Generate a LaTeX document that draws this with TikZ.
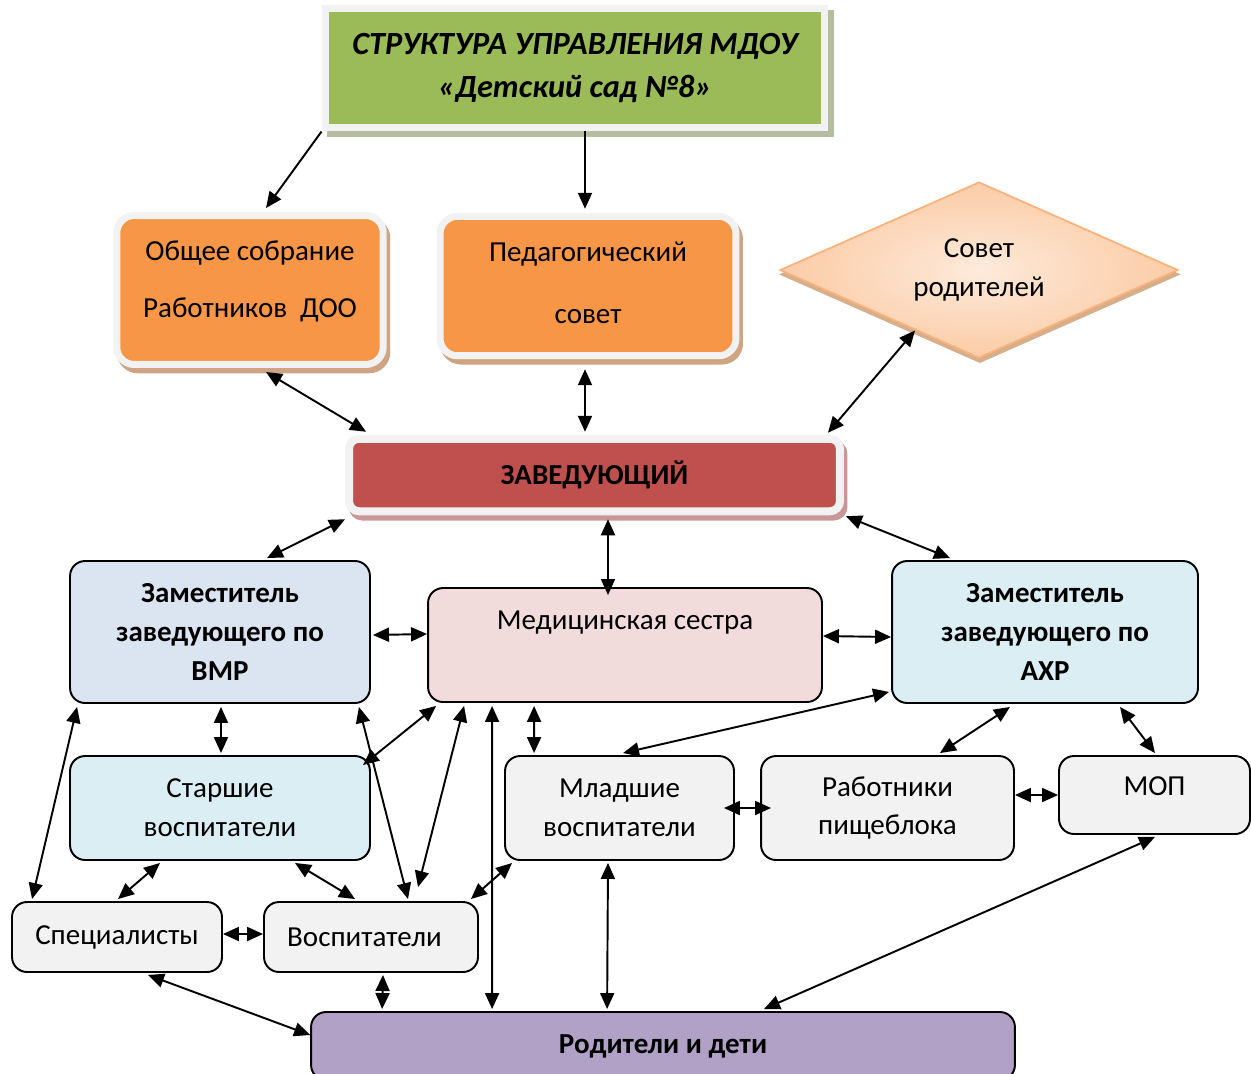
\documentclass[tikz,border=0pt]{standalone}
\usepackage{fontspec}
\setmainfont{Carlito}
\usetikzlibrary{calc}
\usetikzlibrary{arrows.meta}
\usetikzlibrary{shapes.geometric,shadows}

\definecolor{lvse}{HTML}{9BBB59}
\definecolor{chengse}{HTML}{F79646}
\definecolor{hongse}{HTML}{C0504D}
\definecolor{bianse}{HTML}{F2F2F2}
\definecolor{lanhui}{HTML}{DBE5F1}
\definecolor{qianlan}{HTML}{DAEEF3}
\definecolor{fense}{HTML}{F2DCDB}
\definecolor{zise}{HTML}{B2A1C7}
\definecolor{lvying}{HTML}{B4BDA0}
\definecolor{chengying}{HTML}{CFA483}
\definecolor{hongying}{HTML}{C99797}
\definecolor{lingxin}{HTML}{FDEADB}
\definecolor{lingbian}{HTML}{FBCCA6}
\definecolor{lingxian}{HTML}{F8B27C}
\definecolor{lingying}{HTML}{D6AE8A}

\begin{document}
\begin{tikzpicture}[x=0.02cm,y=-0.02cm,>={Triangle[length=0.32cm,width=0.28cm]},
		font=\fontsize{16.5}{22}\selectfont]
		\tikzstyle{kuang}=[rectangle,draw,rounded corners=0.3cm,line width=1.1pt,align=center]
		\tikzstyle{biankuang}=[rectangle,draw=bianse,line width=0.14cm,align=center]
		\tikzstyle{jian}=[line width=1.1pt]
		%% page
		\useasboundingbox (0,0) rectangle (1251,1073);
		\clip (0,0) rectangle (1251,1073);
		%% title
		\node[biankuang,fill=lvse,minimum width=10cm,minimum height=2.4cm,
			copy shadow={shadow xshift=3pt,shadow yshift=-3pt,draw=lvying,fill=lvying},
			font=\fontsize{18.4}{24}\selectfont\bfseries\itshape] (title) at (575,68)
			{СТРУКТУРА УПРАВЛЕНИЯ МДОУ\\«Детский сад №8»};
		%% councils
		\node[biankuang,fill=chengse,rounded corners=0.35cm,minimum width=5.33cm,minimum height=2.98cm,
			copy shadow={shadow xshift=2pt,shadow yshift=-3pt,draw=chengying,fill=chengying},
			font=\fontsize{16.5}{32}\selectfont,text depth=12.5pt] (obshee) at (250,290)
			{Общее собрание\\Работников\ \ ДОО};
		\node[biankuang,fill=chengse,rounded corners=0.35cm,minimum width=5.92cm,minimum height=2.79cm,
			copy shadow={shadow xshift=2pt,shadow yshift=-3pt,draw=chengying,fill=chengying},
			font=\fontsize{16.5}{35}\selectfont,text depth=4pt] (ped) at (588,286)
			{Педагогический\\совет};
		\node[diamond,inner sep=0pt,shape aspect=2.26,minimum width=7.96cm,minimum height=3.52cm,
			shading=radial,inner color=lingxin,outer color=lingbian,draw=lingxian,line width=1pt,align=center,
			copy shadow={shadow xshift=0.5pt,shadow yshift=-2.5pt,draw=lingying,fill=lingying}] (sovet) at (979,270)
			{Совет\\родителей};
		%% head
		\node[biankuang,fill=hongse,rounded corners=0.2cm,line width=0.16cm,minimum width=9.82cm,minimum height=1.45cm,
			copy shadow={shadow xshift=2pt,shadow yshift=-3pt,draw=hongying,fill=hongying},
			font=\fontsize{16.5}{22}\selectfont\bfseries] (zav) at (594.5,475) {ЗАВЕДУЮЩИЙ};
		%% deputies
		\node[kuang,fill=lanhui,minimum width=6cm,minimum height=2.84cm,font=\fontsize{16.5}{22}\selectfont\bfseries]
			(vmr) at (220,632) {Заместитель\\заведующего по\\ВМР};
		\node[kuang,fill=fense,minimum width=7.88cm,minimum height=2.28cm,text height=12pt,text depth=30pt]
			(med) at (625,645) {Медицинская сестра};
		\node[kuang,fill=qianlan,minimum width=6.12cm,minimum height=2.84cm,font=\fontsize{16.5}{22}\selectfont\bfseries]
			(ahr) at (1045,632) {Заместитель\\заведующего по\\АХР};
		%% staff
		\node[kuang,fill=qianlan,minimum width=6cm,minimum height=2.08cm] (starshie) at (220,808) {Старшие\\воспитатели};
		\node[kuang,fill=bianse,minimum width=4.58cm,minimum height=2.08cm] (mladshie) at (619.5,808) {Младшие\\воспитатели};
		\node[kuang,fill=bianse,minimum width=5.06cm,minimum height=2.08cm] (rabotniki) at (887.5,808) {Работники\\пищеблока};
		\node[kuang,fill=bianse,minimum width=3.82cm,minimum height=1.56cm,text height=11pt,text depth=11pt]
			(mop) at (1154.5,795) {МОП};
		\node[kuang,fill=bianse,minimum width=4.2cm,minimum height=1.4cm] (spec) at (117,937) {Специалисты};
		\node[kuang,fill=bianse,minimum width=4.28cm,minimum height=1.4cm] (vosp) at (371,937) {Воспитатели\ \ };
		\node[kuang,fill=zise,minimum width=14.08cm,minimum height=1.36cm,font=\fontsize{16.5}{22}\selectfont\bfseries]
			(roditeli) at (663,1046) {Родители и дети};
		%% arrows from title
		\draw[jian,->] (title.south west) -- ($(obshee.north)+(16,-4)$);
		\draw[jian,->] ($(title.south)+(10,0)$) -- ($(ped.north)+(-3,-4)$);
		%% arrows round the head
		\draw[jian,<->] ($(obshee.south)+(16,4)$) -- ($(zav.north west)+(21,-3)$);
		\draw[jian,<->] ($(ped.south)+(-3,10)$) -- ($(zav.north)+(-9.5,-3)$);
		\draw[jian,<->] ($(zav.north east)+(-16,-2)$) -- ($(sovet.south)!0.32!(sovet.west)$);
		\draw[jian,<->] ($(zav.south west)+(0,4)$) -- ($(vmr.north)+(47,-2)$);
		\draw[jian,<->] ($(zav.south)+(13.5,4)$) -- ($(med.north)+(-17,8)$);
		\draw[jian,<->] ($(zav.south east)+(2,1)$) -- ($(ahr.north)+(-95,-2)$);
		%% middle row
		\draw[jian,<->] ($(vmr.east)+(2,3)$) -- ($(med.west)+(0,-11)$);
		\draw[jian,<->] ($(med.east)+(0,-9)$) -- ($(ahr.west)+(0,5)$);
		%% from the deputy for VMR
		\draw[jian,<->] ($(vmr.south)+(1,3)$) -- ($(starshie.north)+(1,-2)$);
		\draw[jian,<->] ($(vmr.south west)+(8,3)$) -- ($(spec.north west)+(21,-2)$);
		\draw[jian,<->] ($(vmr.south east)+(-12,3)$) -- ($(vosp.north)+(37,-2)$);
		%% from the nurse
		\draw[jian,<->] ($(med.south west)+(9,3)$) -- ($(starshie.north east)+(-8,10)$);
		\draw[jian,<->] ($(med.south west)+(37,3)$) -- ($(vosp.north)+(47,-14)$);
		\draw[jian,<->] ($(med.south west)+(65,3)$) -- ($(roditeli.north west)+(182,-2)$);
		\draw[jian,<->] ($(med.south west)+(107,3)$) -- ($(mladshie.north west)+(30,-2)$);
		%% from the deputy for AHR
		\draw[jian,<->] ($(ahr.south west)+(-2,-12)$) -- ($(mladshie.north)+(3.5,-2)$);
		\draw[jian,<->] ($(ahr.south)+(-35,3)$) -- ($(rabotniki.north)+(52.5,-2)$);
		\draw[jian,<->] ($(ahr.south)+(75,3)$) -- ($(mop.north)+(0.5,-2)$);
		%% staff rows
		\draw[jian,<->] ($(mladshie.east)+(-11,0)$) -- ($(rabotniki.west)+(11,0)$);
		\draw[jian,<->] ($(rabotniki.east)+(0,-13)$) -- (mop.west);
		\draw[jian,<->] ($(starshie.south)+(-60,2)$) -- ($(spec.north)+(1,-2)$);
		\draw[jian,<->] ($(starshie.south)+(75,2)$) -- ($(vosp.north)+(-16,-2)$);
		\draw[jian,<->] ($(spec.east)+(0,-3)$) -- ($(vosp.west)+(0,-3)$);
		\draw[jian,<->] ($(vosp.north east)+(-8,-2)$) -- ($(mladshie.south west)+(8,2)$);
		%% to parents
		\draw[jian,<->] ($(mop.south)+(0.5,2)$) -- ($(roditeli.north)+(101,-2)$);
		\draw[jian,<->] ($(spec.south)+(31,2)$) -- ($(roditeli.west)+(0,-11)$);
		\draw[jian,<->] ($(vosp.south)+(12,2)$) -- ($(roditeli.north west)+(72,-2)$);
		\draw[jian,<->] ($(mladshie.south)+(-11.5,2)$) -- ($(roditeli.north west)+(297,-2)$);
	\end{tikzpicture}
\end{document}
